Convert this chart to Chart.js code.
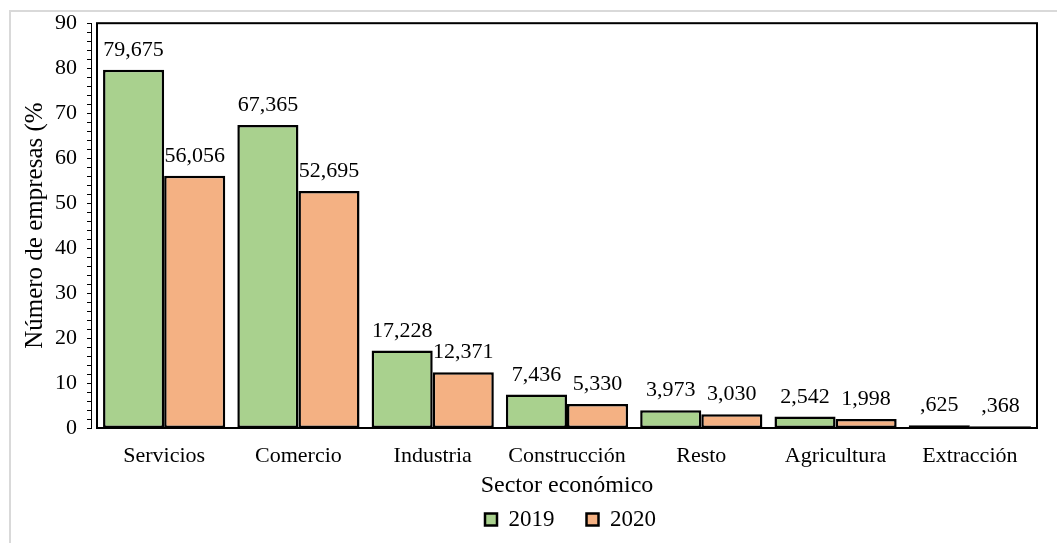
<!DOCTYPE html>
<html lang="es">
<head>
<meta charset="utf-8">
<title>Número de empresas por sector económico</title>
<script src="https://cdn.jsdelivr.net/npm/chart.js@4.4.1/dist/chart.umd.min.js"></script>
<style>
    html, body { margin: 0; padding: 0; background: #fff; overflow: hidden; }
    #wrap { position: relative; width: 1057px; height: 543px; }
    #frame {
        position: absolute; left: 9px; top: 10px; width: 1100px; height: 600px;
        border-left: 2px solid #d9d9d9; border-top: 2px solid #d9d9d9;
    }
    #chart { position: absolute; left: 0; top: 0; }
</style>
</head>
<body>
<div id="wrap">
    <div id="frame"></div>
    <canvas id="chart" width="1057" height="543"></canvas>
</div>
<script>
// Sectores y porcentajes de empresas
const sectors = ['Servicios', 'Comercio', 'Industria', 'Construcción', 'Resto', 'Agricultura', 'Extracción'];
const values2019 = [79.675, 67.365, 17.228, 7.436, 3.973, 2.542, 0.625];
const values2020 = [56.056, 52.695, 12.371, 5.330, 3.030, 1.998, 0.368];
const yMin = 0;
const yMax = 90;

Chart.defaults.font.family = "'Liberation Serif', 'Times New Roman', serif";
Chart.defaults.color = '#000';

// "0,625" se muestra como ",625"
function fmt(v) {
    return v.toFixed(3).replace('.', ',').replace(/^0/, '');
}

// Etiquetas de valor sobre cada barra
const valueLabels = {
    id: 'valueLabels',
    afterDatasetsDraw(chart) {
        const ctx = chart.ctx;
        ctx.save();
        ctx.font = "22px 'Liberation Serif', serif";
        ctx.fillStyle = '#000';
        ctx.textAlign = 'center';
        ctx.textBaseline = 'alphabetic';
        chart.data.datasets.forEach((ds, i) => {
            chart.getDatasetMeta(i).data.forEach((bar, j) => {
                ctx.fillText(fmt(ds.data[j]), bar.x, bar.y - 14);
            });
        });
        ctx.restore();
    }
};

// Borde negro del área de trazado
const plotBorder = {
    id: 'plotBorder',
    beforeDatasetsDraw(chart) {
        const { left, top, right, bottom } = chart.chartArea;
        const ctx = chart.ctx;
        ctx.save();
        ctx.strokeStyle = '#000';
        ctx.lineWidth = 2;
        ctx.strokeRect(left, top, right - left, bottom - top);
        ctx.restore();
    }
};

// Centrar la leyenda bajo el título del eje X
const legendShift = {
    id: 'legendShift',
    afterLayout(chart) {
        chart.legend.left += 52;
        chart.legend.right += 52;
    }
};

const ctx = document.getElementById('chart').getContext('2d');
new Chart(ctx, {
    type: 'bar',
    data: {
        labels: sectors,
        datasets: [{
            label: '2019',
            data: values2019,
            backgroundColor: '#a9d18e',
            borderColor: '#000',
            borderWidth: 2.5,
            borderSkipped: false,
            yAxisID: 'y'
        }, {
            label: '2020',
            data: values2020,
            backgroundColor: '#f4b183',
            borderColor: '#000',
            borderWidth: 2.5,
            borderSkipped: false,
            yAxisID: 'y'
        }]
    },
    options: {
        responsive: false,
        animation: false,
        devicePixelRatio: 1,
        categoryPercentage: 0.91,
        barPercentage: 1,
        layout: { padding: { top: 23, right: 20, left: 0, bottom: 2 } },
        plugins: {
            legend: {
                position: 'bottom',
                labels: {
                    font: { size: 23 },
                    color: '#000',
                    boxWidth: 12,
                    boxHeight: 12,
                    padding: 32
                }
            },
            tooltip: { enabled: false }
        },
        scales: {
            y: {
                min: yMin,
                max: yMax,
                weight: 0,
                ticks: { display: false },
                grid: { display: false },
                border: { display: false },
                afterFit: s => { s.width = 6; }
            },
            yAxis: {
                type: 'linear',
                axis: 'y',
                position: 'left',
                weight: 1,
                min: yMin,
                max: yMax,
                ticks: {
                    stepSize: 2,
                    autoSkip: false,
                    padding: 10,
                    font: { size: 22 },
                    color: '#000',
                    callback: v => (v % 10 === 0 ? v : '')
                },
                grid: {
                    drawOnChartArea: false,
                    drawTicks: true,
                    tickLength: 4,
                    tickColor: '#000',
                    tickWidth: 1
                },
                border: { display: true, color: '#000', width: 1 },
                title: {
                    display: true,
                    text: 'Número de empresas (%',
                    font: { size: 25 },
                    color: '#000',
                    padding: { top: 20, bottom: 0 }
                },
                afterFit: s => { s.width = 91; }
            },
            x: {
                grid: { display: false, drawTicks: false },
                border: { display: false },
                ticks: { font: { size: 22 }, color: '#000', padding: 15 },
                title: {
                    display: true,
                    text: 'Sector económico',
                    font: { size: 24 },
                    color: '#000',
                    padding: { top: 0, bottom: -24 }
                },
                afterFit: s => { s.height = 48; }
            }
        }
    },
    plugins: [plotBorder, valueLabels, legendShift]
});
</script>
</body>
</html>
